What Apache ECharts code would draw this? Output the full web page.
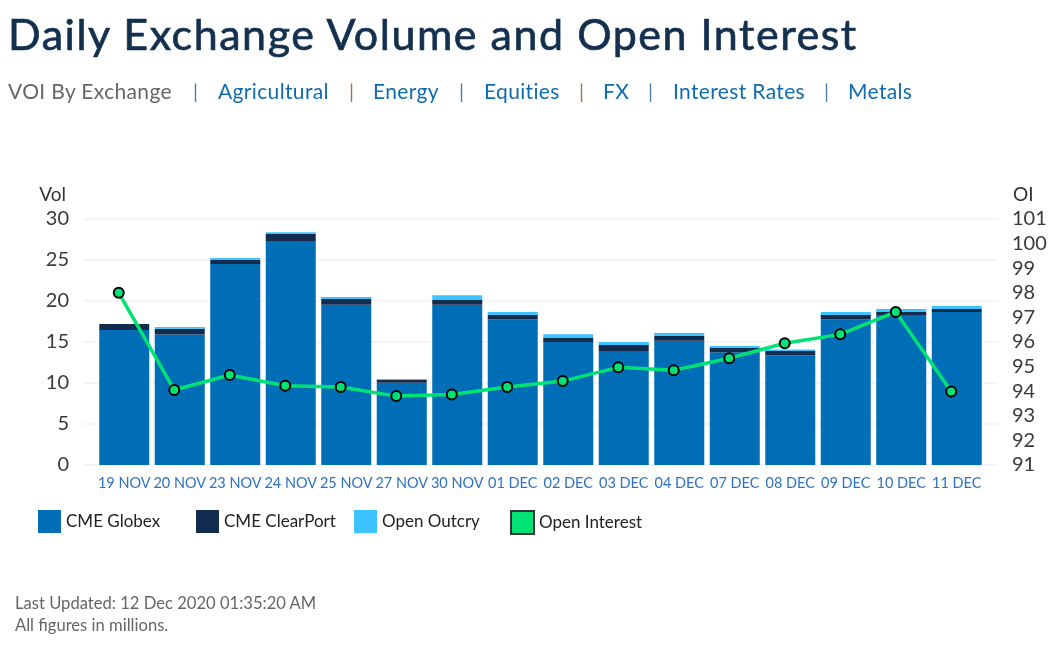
<!DOCTYPE html>
<html>
<head>
<meta charset="utf-8">
<title>Daily Exchange Volume and Open Interest</title>
<script src="https://cdn.jsdelivr.net/npm/echarts@6/dist/echarts.min.js"></script>
<style>
  html, body { margin: 0; padding: 0; background: #fff; font-family: Lato, sans-serif; }
  #page { position: relative; width: 1050px; height: 648px; overflow: hidden; }
  #chart { position: absolute; left: 0; top: 0; width: 1050px; height: 648px; }
  h1 { position: absolute; left: 8px; top: 8px; margin: 0; font-size: 43px; line-height: 52px; font-weight: 400; -webkit-text-stroke: 0.7px #14304f; letter-spacing: 1.53px; color: #14304f; white-space: nowrap; z-index: 2; }
  #nav { position: absolute; left: 8px; top: 78px; font-size: 21px; line-height: 26px; letter-spacing: 0.35px; color: #0f6cb0; white-space: nowrap; z-index: 2; }
  #nav span { position: absolute; top: 0; }
  #nav .cur { color: #666; }
  #nav .sep { color: #4f7ea6; font-size: 20px; }
  #nav .alt { color: #a5724c; }
  #foot { position: absolute; left: 15px; top: 592px; font-size: 16.6px; line-height: 22px; color: #666; z-index: 2; }
</style>
</head>
<body>
<div id="page">
  <h1>Daily Exchange Volume and Open Interest</h1>
  <div id="nav">
    <span class="cur" style="left:0">VOI By Exchange</span>
    <span class="sep" style="left:185px">|</span>
    <span style="left:210px">Agricultural</span>
    <span class="sep alt" style="left:341px">|</span>
    <span style="left:365px">Energy</span>
    <span class="sep" style="left:451px">|</span>
    <span style="left:476px">Equities</span>
    <span class="sep alt" style="left:571px">|</span>
    <span style="left:595px">FX</span>
    <span class="sep" style="left:640px">|</span>
    <span style="left:665px">Interest Rates</span>
    <span class="sep" style="left:816px">|</span>
    <span style="left:840px">Metals</span>
  </div>
  <div id="chart"></div>
  <div id="foot">Last Updated: 12 Dec 2020 01:35:20 AM<br>All figures in millions.</div>
</div>
<script>
const days = ['19 NOV','20 NOV','23 NOV','24 NOV','25 NOV','27 NOV','30 NOV','01 DEC','02 DEC','03 DEC','04 DEC','07 DEC','08 DEC','09 DEC','10 DEC','11 DEC']
const globex = [16.46,15.9,24.5,27.24,19.55,10.04,19.55,17.76,15.0,13.9,15.16,13.74,13.37,17.76,18.29,18.66]
const clearPort = [0.73,0.73,0.5,0.93,0.7,0.33,0.57,0.53,0.49,0.73,0.57,0.53,0.53,0.53,0.37,0.36]
const openOutcry = [0.02,0.2,0.24,0.2,0.25,0.12,0.57,0.37,0.44,0.37,0.37,0.24,0.2,0.37,0.36,0.37]
const openInterest = [98.0,94.05,94.66,94.22,94.17,93.8,93.87,94.17,94.41,94.97,94.85,95.34,95.95,96.31,97.22,93.99]

const fontName = 'Lato'
const plotTop = 219
const plotBottom = 648 - 465

const chart = echarts.init(document.getElementById('chart'))

function legendAt(left, data) {
    return {
        left: left,
        top: 505,
        itemWidth: 23,
        itemHeight: 23,
        itemGap: 0,
        selectedMode: false,
        textStyle: { fontFamily: fontName, fontSize: 17, color: '#222', padding: [3, 0, 0, 0] },
        data: [data]
    }
}

chart.setOption({
    animation: false,
    textStyle: { fontFamily: fontName },
    legend: [
        legendAt(33, { name: 'CME Globex', icon: 'rect' }),
        legendAt(191, { name: 'CME ClearPort', icon: 'rect' }),
        legendAt(349, { name: 'Open Outcry', icon: 'rect' }),
        legendAt(505, { name: 'Open Interest', icon: 'rect', itemStyle: { color: '#00e276', borderColor: '#333', borderWidth: 2 } })
    ],
    // grid 0 carries the rules, grid 1 the bars, grid 2 the line (sits a bit left of the bars)
    grid: [
        { left: 83, right: 1050 - 998, top: plotTop, bottom: plotBottom },
        { left: 96.5, right: 1050 - 984.5, top: plotTop, bottom: plotBottom },
        { left: 91, right: 1050 - 979, top: plotTop, bottom: plotBottom }
    ],
    xAxis: [
        { gridIndex: 0, type: 'category', data: days, show: false },
        {
            gridIndex: 1, type: 'category', data: days,
            axisLine: { show: false }, axisTick: { show: false },
            axisLabel: { interval: 0, color: '#2f72c4', fontSize: 14.5, margin: 11, fontFamily: fontName }
        },
        { gridIndex: 2, type: 'category', data: days, show: false }
    ],
    yAxis: [
        {
            gridIndex: 0, type: 'value', min: 0, max: 30, interval: 5,
            name: 'Vol', nameGap: 15,
            nameTextStyle: { color: '#333', fontSize: 19, align: 'right', padding: [0, 17, 0, 0], fontFamily: fontName },
            axisLabel: { color: '#3a3a3a', fontSize: 20, margin: 14, fontFamily: fontName },
            axisLine: { show: false }, axisTick: { show: false },
            splitLine: { lineStyle: { color: '#f2f2f2', width: 1.5 } }
        },
        {
            gridIndex: 0, type: 'value', position: 'right', min: 91, max: 101, interval: 1,
            name: 'OI', nameGap: 15,
            nameTextStyle: { color: '#333', fontSize: 19, align: 'left', padding: [0, 0, 0, 15], fontFamily: fontName },
            axisLabel: { color: '#3a3a3a', fontSize: 20, margin: 14, fontFamily: fontName },
            axisLine: { show: false }, axisTick: { show: false }, splitLine: { show: false }
        },
        { gridIndex: 1, type: 'value', min: 0, max: 30, show: false },
        { gridIndex: 2, type: 'value', min: 91, max: 101, show: false }
    ],
    series: [
        { name: 'CME Globex', type: 'bar', stack: 'vol', xAxisIndex: 1, yAxisIndex: 2, barWidth: 50, data: globex, itemStyle: { color: '#006eb6' } },
        { name: 'CME ClearPort', type: 'bar', stack: 'vol', xAxisIndex: 1, yAxisIndex: 2, barWidth: 50, data: clearPort, itemStyle: { color: '#132c4e' } },
        { name: 'Open Outcry', type: 'bar', stack: 'vol', xAxisIndex: 1, yAxisIndex: 2, barWidth: 50, data: openOutcry, itemStyle: { color: '#3bc4ff' } },
        {
            name: 'Open Interest', type: 'line', xAxisIndex: 2, yAxisIndex: 3, data: openInterest, z: 5,
            symbol: 'circle', symbolSize: 10,
            lineStyle: { color: '#00e276', width: 3.5 },
            itemStyle: { color: '#00e276', borderColor: '#000', borderWidth: 2 }
        }
    ]
})
</script>
</body>
</html>
